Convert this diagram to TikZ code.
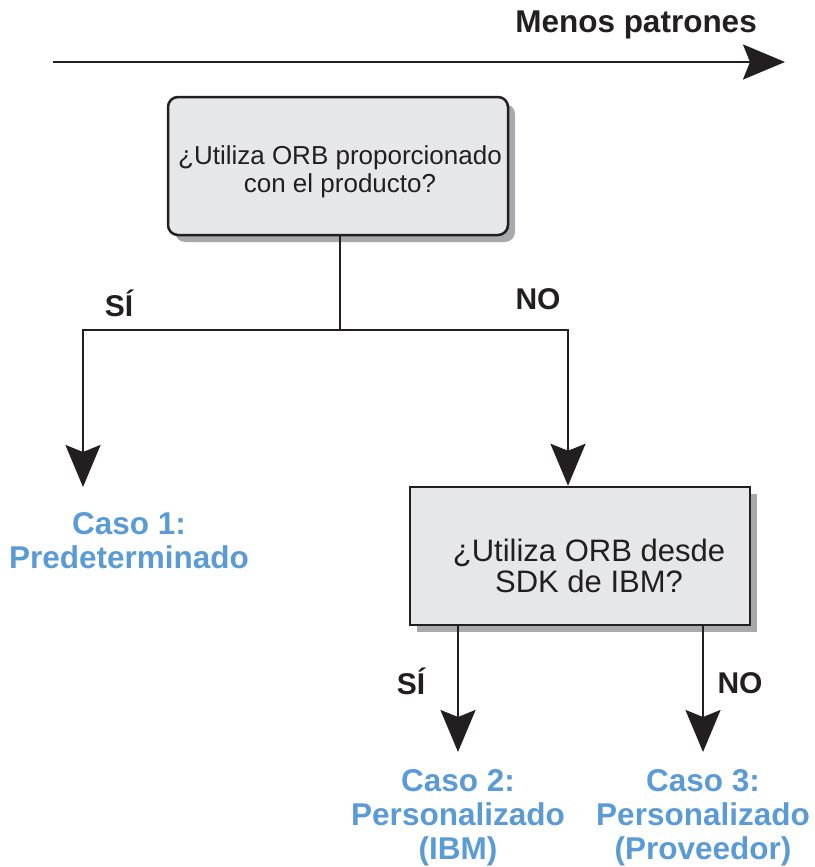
\documentclass[tikz,border=0pt]{standalone}
\usepackage{fontspec}
\setmainfont{Liberation Sans}
\usetikzlibrary{arrows.meta, shadows}

\definecolor{boxgray}{HTML}{E6E7E8}
\definecolor{shadegray}{HTML}{A7A9AC}
\definecolor{casoblue}{HTML}{5B9BD5}
\definecolor{inkblack}{HTML}{231F20}

\begin{document}
\begin{tikzpicture}[x=1pt, y=-1pt, >={Stealth[length=42pt, width=35pt, inset=7pt]},
  qbox/.style={draw=inkblack, line width=2.5pt, fill=boxgray, minimum width=340pt, minimum height=138pt, inner sep=0pt,
    drop shadow={shadow xshift=7pt, shadow yshift=-7pt, fill=shadegray, opacity=1}},
  qtext/.style={inner sep=0pt, align=center, text=inkblack},
  flow/.style={draw=inkblack, line width=2.3pt},
  answer/.style={inner sep=0pt, anchor=base, text=inkblack, font=\fontsize{30}{32}\selectfont\bfseries},
  caso/.style={inner sep=0pt, align=center, text=casoblue, font=\fontsize{31.5}{34}\selectfont\bfseries}]
  \useasboundingbox (0,0) rectangle (814,867);

  % escala superior
  \coordinate (axisstart) at (53,62);
  \coordinate (axisend) at (785,62);
  \draw[flow, ->] (axisstart) -- (axisend);
  \node[answer, anchor=base east, font=\fontsize{31.5}{32}\selectfont\bfseries] (menos) at (757,33) {Menos patrones};

  % primera pregunta
  \node[qbox, rounded corners=10pt] (q1) at (338,166) {};
  \node[qtext, font=\fontsize{26}{27.5}\selectfont] (q1text) at (340,172) {¿Utiliza ORB proporcionado\\con el producto?};

  % segunda pregunta
  \node[qbox] (q2) at (580,556) {};
  \node[qtext, font=\fontsize{31}{31.5}\selectfont] (q2text) at (589,566) {¿Utiliza ORB desde\\SDK de IBM?};

  % ramas
  \coordinate (split) at (340,330);
  \coordinate (lft) at (83,330);
  \coordinate (rgt) at (568,330);
  \coordinate (tip1) at (83,487);
  \coordinate (tip2) at (458,752);
  \coordinate (tip3) at (703,752);
  \draw[flow] (split |- q1.south) -- (split);
  \draw[flow, ->] (split) -- (lft) -- (tip1);
  \draw[flow, ->] (split) -- (rgt) -- (rgt |- q2.north);
  \draw[flow, ->] (tip2 |- q2.south) -- (tip2);
  \draw[flow, ->] (tip3 |- q2.south) -- (tip3);

  \node[answer] (si1) at (119,316) {SÍ};
  \node[answer] (no1) at (538,309) {NO};
  \node[answer] (si2) at (411,694) {SÍ};
  \node[answer] (no2) at (740,693) {NO};

  % casos
  \node[caso] (caso1) at (129,540.5) {Caso 1:\\Predeterminado};
  \node[caso] (caso2) at (458,818) {Caso 2:\\Personalizado\\(IBM)};
  \node[caso] (caso3) at (703,818) {Caso 3:\\Personalizado\\(Proveedor)};
\end{tikzpicture}
\end{document}
